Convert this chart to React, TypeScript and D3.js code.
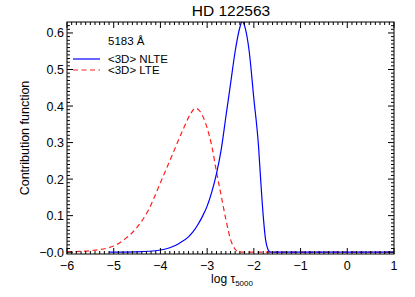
import React from "react";
import * as d3 from "d3";

// log tau_5000 grid and contribution function values
const nlteTau = [-5.1, -4.5, -4.0, -3.8, -3.6, -3.4, -3.3, -3.2, -3.1, -3.0, -2.9, -2.8, -2.7, -2.6, -2.5, -2.4, -2.3, -2.25, -2.2, -2.1, -2.0, -1.9, -1.85, -1.8, -1.75, -1.7, -1.65, -1.0, 0.0, 1.0];
const nlteVal = [0.0, 0.001, 0.006, 0.012, 0.024, 0.042, 0.056, 0.075, 0.098, 0.126, 0.165, 0.215, 0.28, 0.37, 0.46, 0.55, 0.615, 0.632, 0.62, 0.55, 0.42, 0.29, 0.19, 0.1, 0.035, 0.008, 0.0, 0.0, 0.0, 0.0];

const lteTau = [-6.0, -5.5, -5.0, -4.75, -4.5, -4.25, -4.0, -3.75, -3.5, -3.35, -3.25, -3.15, -3.0, -2.9, -2.8, -2.7, -2.6, -2.5, -2.4, -2.3, -1.5, 0.0, 1.0];
const lteVal = [0.001, 0.004, 0.017, 0.037, 0.068, 0.117, 0.19, 0.265, 0.34, 0.38, 0.394, 0.385, 0.34, 0.29, 0.22, 0.155, 0.09, 0.035, 0.008, 0.0, 0.0, 0.0, 0.0];

const xTicks = [-6, -5, -4, -3, -2, -1, 0, 1];
const yTicks = [0, 0.1, 0.2, 0.3, 0.4, 0.5, 0.6];

const W = 415;
const H = 297;
const left = 67;
const right = 394;
const top = 22;
const bottom = 254;
const font = "Liberation Sans, Arial, Helvetica, sans-serif";

const fmtX = (v: number) => (v < 0 ? "\u2212" + Math.abs(v) : String(v));
const fmtY = (v: number) => (v === 0 ? "\u22120.0" : v.toFixed(1));

export default function App() {
  const x = d3.scaleLinear().domain([-6, 1]).range([left, right]);
  const y = d3.scaleLinear().domain([-0.005, 0.63]).range([bottom, top]);

  const line = d3
    .line<[number, number]>()
    .x(d => x(d[0]))
    .y(d => y(d[1]))
    .curve(d3.curveMonotoneX);

  const nlte = nlteTau.map((t, i) => [t, nlteVal[i]] as [number, number]);
  const lte = lteTau.map((t, i) => [t, lteVal[i]] as [number, number]);

  const xMinor = d3.range(-6, 1.0001, 0.1).map(v => Math.round(v * 10) / 10);
  const yMinor = d3.range(0, 0.63, 0.01).map(v => Math.round(v * 100) / 100);

  return (
    <svg
      width={W}
      height={H}
      style={{ position: "absolute", left: 0, top: 0, background: "#fff" }}
      fontFamily={font}
    >
      <defs>
        <clipPath id="plot">
          <rect x={left} y={top} width={right - left} height={bottom - top} />
        </clipPath>
      </defs>

      <text x={231} y={16} textAnchor="middle" fontSize={15.5}>
        HD 122563
      </text>

      <g clipPath="url(#plot)">
        <path d={line(lte) || ""} fill="none" stroke="#ff2020" strokeWidth={1.2} strokeDasharray="5,3.5" />
        <path d={line(nlte) || ""} fill="none" stroke="#0000ff" strokeWidth={1.2} />
      </g>

      {/* frame and inward ticks */}
      <rect x={left} y={top} width={right - left} height={bottom - top} fill="none" stroke="#000" strokeWidth={1} />
      {xMinor.map(v => {
        const major = Number.isInteger(v);
        const len = major ? 6 : 3;
        return (
          <g key={"xt" + v} stroke="#000" strokeWidth={1}>
            <line x1={x(v)} x2={x(v)} y1={bottom} y2={bottom - len} />
            <line x1={x(v)} x2={x(v)} y1={top} y2={top + len} />
          </g>
        );
      })}
      {yMinor.map(v => {
        const major = Math.abs(v * 10 - Math.round(v * 10)) < 1e-6;
        const len = major ? 6 : 3;
        return (
          <g key={"yt" + v} stroke="#000" strokeWidth={1}>
            <line x1={left} x2={left + len} y1={y(v)} y2={y(v)} />
            <line x1={right} x2={right - len} y1={y(v)} y2={y(v)} />
          </g>
        );
      })}

      {xTicks.map(v => (
        <text key={"xl" + v} x={x(v)} y={269.5} textAnchor="middle" fontSize={12.5}>
          {fmtX(v)}
        </text>
      ))}
      {yTicks.map(v => (
        <text key={"yl" + v} x={left - 3} y={y(v) + 4.5} textAnchor="end" fontSize={12.5}>
          {fmtY(v)}
        </text>
      ))}

      <text x={232} y={283} textAnchor="middle" fontSize={12}>
        log τ<tspan fontSize={8} dy={2.5}>5000</tspan>
      </text>
      <text
        transform={`translate(29,${(top + bottom) / 2}) rotate(-90)`}
        textAnchor="middle"
        fontSize={12.5}
      >
        Contribution function
      </text>

      {/* legend */}
      <text x={108} y={45} fontSize={11.5}>5183 Å</text>
      <line x1={73} x2={100} y1={59} y2={59} stroke="#0000ff" strokeWidth={1.2} />
      <text x={108} y={63} fontSize={11.5}>&lt;3D&gt; NLTE</text>
      <line x1={73} x2={100} y1={70} y2={70} stroke="#ff2020" strokeWidth={1.2} strokeDasharray="5,3.5" />
      <text x={108} y={74} fontSize={11.5}>&lt;3D&gt; LTE</text>
    </svg>
  );
}
